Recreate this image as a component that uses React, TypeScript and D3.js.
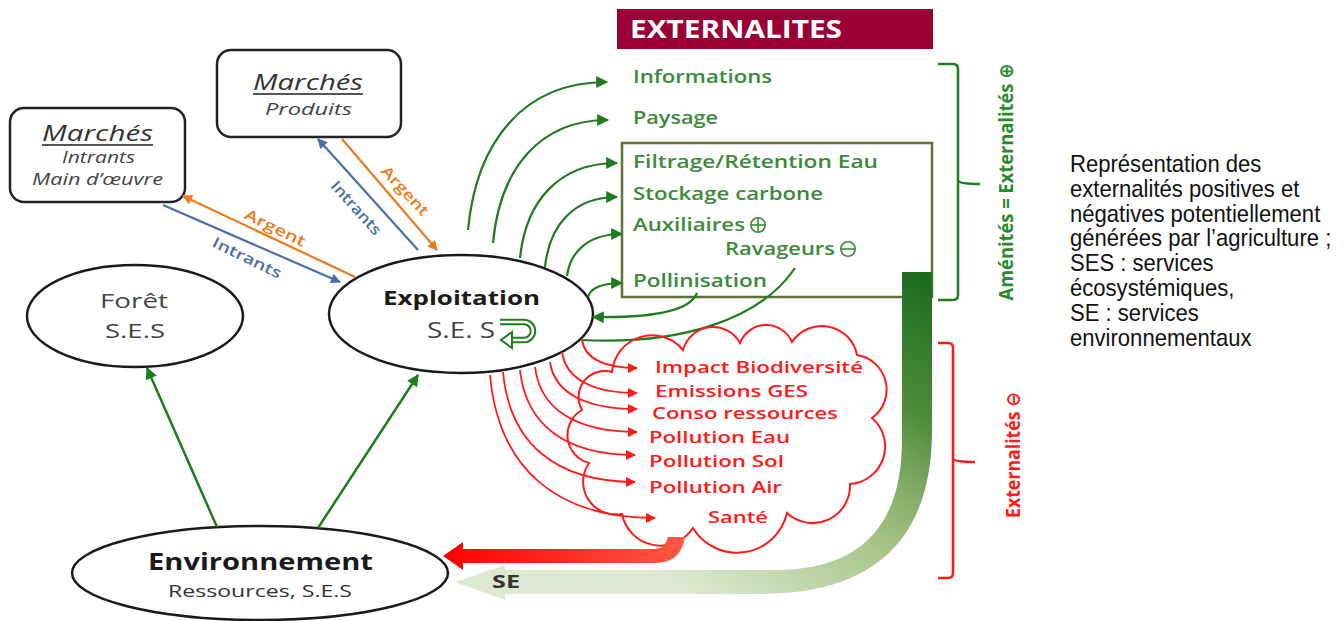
import { useEffect, useRef } from 'react';
import * as d3 from 'd3';

// libellés du schéma
const amenities = ['Informations', 'Paysage', 'Filtrage/Rétention Eau', 'Stockage carbone', 'Auxiliaires', 'Ravageurs', 'Pollinisation'];
const amenitySigns = ['', '', '', '', '+', '-', ''];
const negatives = ['Impact Biodiversité', 'Emissions GES', 'Conso ressources', 'Pollution Eau', 'Pollution Sol', 'Pollution Air', 'Santé'];
const caption = [
  'Représentation des',
  'externalités positives et',
  'négatives potentiellement',
  'générées par l’agriculture ;',
  'SES : services',
  'écosystémiques,',
  'SE : services',
  'environnementaux',
];
const flowLabels = ['Argent', 'Intrants', 'Argent', 'Intrants'];

// mise en page (pixels)
const amenityX = [633, 633, 633, 633, 633, 725, 633];
const amenityY = [83, 124, 168, 200, 231, 255, 287];
const amenityW = [139, 85, 245, 190, 112, 110, 134];
const greenStart = [[468, 230], [493, 243], [520, 258], [545, 267], [567, 276], null, [588, 297]];
const greenTip = [[607, 82], [608, 120], [617, 163], [617, 197], [622, 234], null, [622, 283]];

const negX = [655, 655, 652, 649, 649, 649, 708];
const negY = [373, 397, 419, 443, 467, 493, 523];
const negW = [208, 153, 186, 141, 135, 133, 60];
const redStart = [[582, 340], [562, 352], [550, 362], [535, 367], [520, 370], [503, 372], [490, 375]];
const redTip = [[637, 368], [637, 393], [637, 409], [637, 432], [635, 455], [635, 482], [655, 518]];

const cloudPts = [
  [612, 372], [683, 350], [740, 343], [792, 342], [857, 355], [872, 418],
  [850, 484], [787, 513], [693, 528], [622, 514], [589, 463], [582, 410],
];

const W = 1344;
const H = 621;
const SANS = "'Open Sans', 'DejaVu Sans', sans-serif";
const GREEN = '#1e7b1e';
const GREEN_TXT = '#3a8a3a';
const RED = '#ff1a1a';
const BLUE = '#4a6fa8';
const ORANGE = '#ec7a1c';

export default function App() {
  const svgRef = useRef<SVGSVGElement>(null);

  useEffect(() => {
    document.body.style.margin = '0';
    const svg = d3.select(svgRef.current);
    svg.selectAll('*').remove();
    const defs = svg.append('defs');

    const marker = (id: string, color: string, w: number, h: number) => {
      defs.append('marker')
        .attr('id', id)
        .attr('viewBox', '0 0 10 10')
        .attr('refX', 9)
        .attr('refY', 5)
        .attr('markerWidth', w)
        .attr('markerHeight', h)
        .attr('markerUnits', 'userSpaceOnUse')
        .attr('orient', 'auto')
        .append('path')
        .attr('d', 'M0,0 L10,5 L0,10 Z')
        .attr('fill', color);
    };
    marker('mGreen', GREEN, 14, 12);
    marker('mRed', RED, 13, 10);
    marker('mBlue', BLUE, 12, 10);
    marker('mOrange', ORANGE, 12, 10);

    const gGreen = defs.append('linearGradient').attr('id', 'gradGreen')
      .attr('gradientUnits', 'userSpaceOnUse')
      .attr('x1', 917).attr('y1', 272).attr('x2', 700).attr('y2', 600);
    [[0, '#1d6b1d'], [0.3, '#4e8d3c'], [0.5, '#8cb06b'], [0.65, '#a9c68c'], [1, '#dde9d1']]
      .forEach(([o, c]) => gGreen.append('stop').attr('offset', o).attr('stop-color', c));
    const gRed = defs.append('linearGradient').attr('id', 'gradRed')
      .attr('gradientUnits', 'userSpaceOnUse')
      .attr('x1', 443).attr('y1', 0).attr('x2', 690).attr('y2', 0);
    [[0, '#ff0000'], [1, '#ff5a48']]
      .forEach(([o, c]) => gRed.append('stop').attr('offset', o).attr('stop-color', c));

    const txt = (parent: any, s: string, x: number, y: number, opts: any = {}) => {
      const t = parent.append('text')
        .attr('x', x).attr('y', y)
        .attr('font-family', opts.family || SANS)
        .attr('font-size', opts.size || 16)
        .attr('font-weight', opts.weight || 400)
        .attr('font-style', opts.style || 'normal')
        .attr('fill', opts.fill || '#222')
        .attr('text-anchor', opts.anchor || 'start')
        .text(s);
      if (opts.width) t.attr('textLength', opts.width).attr('lengthAdjust', 'spacingAndGlyphs');
      return t;
    };

    // --- boîtes Marchés
    const boxes = [
      { x: 10, y: 108, w: 175, h: 94, title: [42, 141, 111], lines: [['Intrants', 62, 163, 73], ['Main d’œuvre', 32, 185, 131]] },
      { x: 217, y: 50, w: 184, h: 87, title: [253, 90, 110], lines: [['Produits', 265, 115, 87]] },
    ];
    boxes.forEach(b => {
      svg.append('rect').attr('x', b.x).attr('y', b.y).attr('width', b.w).attr('height', b.h)
        .attr('rx', 14).attr('fill', '#fff').attr('stroke', '#222').attr('stroke-width', 2.5);
      const [tx, ty, tw] = b.title;
      txt(svg, 'Marchés', tx, ty, { size: 21, style: 'italic', fill: '#333', width: tw });
      svg.append('line').attr('x1', tx).attr('x2', tx + tw).attr('y1', ty + 4).attr('y2', ty + 4)
        .attr('stroke', '#555').attr('stroke-width', 2);
      b.lines.forEach(([s, x, y, w]) => txt(svg, s as string, x as number, y as number,
        { size: 15.5, style: 'italic', fill: '#444', width: w }));
    });

    // --- ellipses
    const nodes = [
      { cx: 135, cy: 316, rx: 108, ry: 51 },
      { cx: 461, cy: 314, rx: 132, ry: 59 },
      { cx: 260, cy: 573, rx: 188, ry: 47 },
    ];
    nodes.forEach(n => svg.append('ellipse').attr('cx', n.cx).attr('cy', n.cy).attr('rx', n.rx).attr('ry', n.ry)
      .attr('fill', '#fff').attr('stroke', '#1a1a1a').attr('stroke-width', 2.5));

    txt(svg, 'Forêt', 100, 308, { size: 20, fill: '#444', width: 68 });
    txt(svg, 'S.E.S', 105, 338, { size: 20, fill: '#444', width: 60 });
    txt(svg, 'Exploitation', 383, 305, { size: 20, weight: 700, fill: '#1a1a1a', width: 157 });
    txt(svg, 'S.E. S', 427, 338, { size: 22, fill: '#444', width: 68 });
    txt(svg, 'Environnement', 148, 570, { size: 23, weight: 700, fill: '#1a1a1a', width: 225 });
    txt(svg, 'Ressources, S.E.S', 168, 597, { size: 16.5, fill: '#333', width: 184 });

    // petit symbole de boucle
    const loop = 'M500,322 L524,322 A9,9 0 0 1 524,340 L510,340';
    svg.append('path').attr('d', loop).attr('fill', 'none').attr('stroke', GREEN).attr('stroke-width', 6.5);
    svg.append('path').attr('d', loop).attr('fill', 'none').attr('stroke', '#fff').attr('stroke-width', 2.6);
    svg.append('path').attr('d', 'M512,332 L501,340 L512,348 Z').attr('fill', '#fff').attr('stroke', GREEN).attr('stroke-width', 2);

    // --- flux marchés
    const flows = [
      { a: [163, 205], b: [340, 282], c: BLUE, m: 'mBlue' },
      { a: [355, 277], b: [183, 196], c: ORANGE, m: 'mOrange' },
      { a: [418, 250], b: [318, 139], c: BLUE, m: 'mBlue' },
      { a: [342, 139], b: [437, 250], c: ORANGE, m: 'mOrange' },
    ];
    flows.forEach(f => svg.append('line').attr('x1', f.a[0]).attr('y1', f.a[1]).attr('x2', f.b[0]).attr('y2', f.b[1])
      .attr('stroke', f.c).attr('stroke-width', 2.2).attr('marker-end', `url(#${f.m})`));
    const labelPos = [[275, 228, 26, 66, ORANGE], [247, 258, 26, 75, BLUE], [405, 191, 47, 62, ORANGE], [356, 208, 48, 67, BLUE]];
    flowLabels.forEach((s, i) => {
      const [x, y, a, w, c] = labelPos[i] as [number, number, number, number, string];
      const g = svg.append('g').attr('transform', `translate(${x},${y}) rotate(${a})`);
      txt(g, s, 0, 5, { size: 15, weight: 600, fill: c, anchor: 'middle', width: w });
    });

    // --- flèches de l'environnement
    [[[217, 527], [147, 368]], [[318, 528], [418, 375]]].forEach(([a, b]) =>
      svg.append('line').attr('x1', a[0]).attr('y1', a[1]).attr('x2', b[0]).attr('y2', b[1])
        .attr('stroke', GREEN).attr('stroke-width', 2.5).attr('marker-end', 'url(#mGreen)'));

    // --- en-tête
    svg.append('rect').attr('x', 617).attr('y', 9).attr('width', 316).attr('height', 40).attr('fill', '#9a0036');
    txt(svg, 'EXTERNALITES', 630, 38, { size: 25, weight: 700, fill: '#fff', width: 212 });

    // --- encadré des services
    svg.append('rect').attr('x', 622).attr('y', 143).attr('width', 310).attr('height', 154)
      .attr('fill', 'none').attr('stroke', '#5f7233').attr('stroke-width', 2.5);

    amenities.forEach((s, i) => {
      txt(svg, s, amenityX[i], amenityY[i], { size: 18, weight: 600, fill: GREEN_TXT, width: amenityW[i] });
      const sign = amenitySigns[i];
      if (sign) {
        const cx = amenityX[i] + amenityW[i] + 13;
        const cy = amenityY[i] - 6;
        const r = 7.2;
        svg.append('circle').attr('cx', cx).attr('cy', cy).attr('r', r).attr('fill', 'none').attr('stroke', GREEN_TXT).attr('stroke-width', 1.6);
        svg.append('line').attr('x1', cx - r).attr('x2', cx + r).attr('y1', cy).attr('y2', cy).attr('stroke', GREEN_TXT).attr('stroke-width', 1.6);
        if (sign === '+') svg.append('line').attr('x1', cx).attr('x2', cx).attr('y1', cy - r).attr('y2', cy + r).attr('stroke', GREEN_TXT).attr('stroke-width', 1.6);
      }
      const s0 = greenStart[i];
      const t0 = greenTip[i];
      if (s0 && t0) {
        const p = d3.path();
        p.moveTo(s0[0], s0[1]);
        p.bezierCurveTo(s0[0] + (t0[0] - s0[0]) * 0.06, s0[1] - (s0[1] - t0[1]) * 0.6,
          s0[0] + (t0[0] - s0[0]) * 0.4, t0[1], t0[0], t0[1]);
        svg.append('path').attr('d', p.toString()).attr('fill', 'none').attr('stroke', GREEN)
          .attr('stroke-width', 2.2).attr('marker-end', 'url(#mGreen)');
      }
    });
    // retours vers l'exploitation
    svg.append('path').attr('d', 'M697,293 C690,312 650,318 593,317').attr('fill', 'none')
      .attr('stroke', GREEN).attr('stroke-width', 2.2).attr('marker-end', 'url(#mGreen)');
    svg.append('path').attr('d', 'M795,268 C760,320 680,345 582,340').attr('fill', 'none')
      .attr('stroke', GREEN).attr('stroke-width', 2.2);

    // --- grande flèche SE
    svg.append('path')
      .attr('d', 'M902,272 H932 V430 Q932,594 760,594 H505 V600 L455,582 L505,565 V570 H775 Q902,570 902,440 Z')
      .attr('fill', 'url(#gradGreen)');
    txt(svg, 'SE', 492, 588, { size: 18, weight: 700, fill: '#333', width: 28 });

    // --- nuage
    let cloudD = `M${cloudPts[0][0]},${cloudPts[0][1]}`;
    cloudPts.forEach((pt, i) => {
      const nx = cloudPts[(i + 1) % cloudPts.length];
      const chord = Math.hypot(nx[0] - pt[0], nx[1] - pt[1]);
      const r = (chord / 2) * 1.08;
      cloudD += ` A${r},${r} 0 0 1 ${nx[0]},${nx[1]}`;
    });
    svg.append('path').attr('d', cloudD + ' Z').attr('fill', 'none').attr('stroke', RED).attr('stroke-width', 2);

    // flèche rouge vers l'environnement
    svg.append('path')
      .attr('d', 'M463,549 H655 Q665,549 668,537 L685,537 Q681,563 655,563 H463 V570 L443,556 L463,542 Z')
      .attr('fill', 'url(#gradRed)');

    negatives.forEach((s, i) => {
      const s0 = redStart[i];
      const t0 = redTip[i];
      const dx = t0[0] - s0[0];
      const dy = t0[1] - s0[1];
      const p = d3.path();
      p.moveTo(s0[0], s0[1]);
      p.bezierCurveTo(s0[0] + dx * 0.05, s0[1] + dy * 0.65, s0[0] + dx * 0.4, t0[1], t0[0], t0[1]);
      svg.append('path').attr('d', p.toString()).attr('fill', 'none').attr('stroke', RED)
        .attr('stroke-width', 1.8).attr('marker-end', 'url(#mRed)');
      txt(svg, s, negX[i], negY[i], { size: 17, weight: 600, fill: RED, width: negW[i] });
    });

    // --- accolades
    const brace = (x0: number, x1: number, xt: number, y0: number, ym: number, y1: number, c: string) =>
      svg.append('path')
        .attr('d', `M${x0},${y0} H${x1 - 5} Q${x1},${y0} ${x1},${y0 + 5} V${ym - 4} Q${x1},${ym} ${xt},${ym} ` +
          `M${x1},${ym - 4} Q${x1},${ym} ${x1},${ym + 4} V${y1 - 5} Q${x1},${y1} ${x1 - 5},${y1} H${x0}`)
        .attr('fill', 'none').attr('stroke', c).attr('stroke-width', 2.5);
    brace(938, 958, 980, 64, 184, 300, GREEN);
    brace(938, 953, 975, 343, 462, 578, RED);

    const rot1 = svg.append('g').attr('transform', 'translate(1006,182) rotate(-90)');
    txt(rot1, 'Aménités =  Externalités ⊕', 0, 7, { size: 20, weight: 700, fill: '#2b8a2b', anchor: 'middle', width: 237 });
    const rot2 = svg.append('g').attr('transform', 'translate(1013,455) rotate(-90)');
    txt(rot2, 'Externalités ⊖', 0, 7, { size: 20, weight: 700, fill: RED, anchor: 'middle', width: 126 });

    // --- légende (police étroite et haute)
    const cap = svg.append('g').attr('transform', 'translate(1070,0) scale(0.92,1)');
    caption.forEach((s, i) => txt(cap, s, 0, 172 + i * 24.8,
      { size: 24, family: "'Liberation Sans', Arial, sans-serif", fill: '#111' }));
  }, []);

  return <svg ref={svgRef} width={W} height={H} style={{ display: 'block', background: '#fff' }} />;
}
